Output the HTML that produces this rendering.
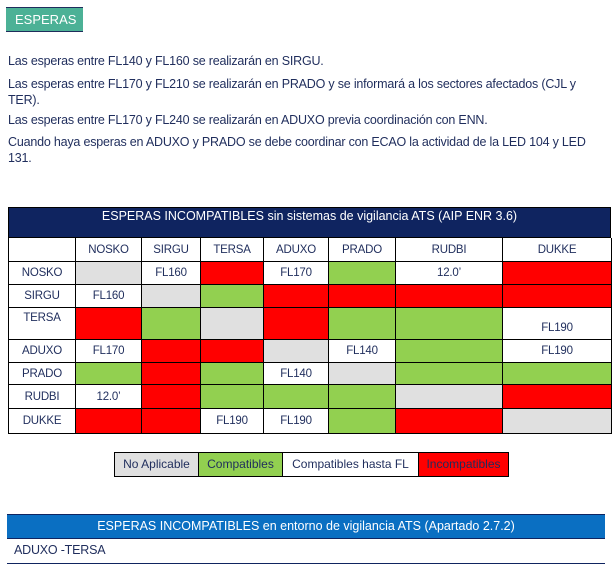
<!DOCTYPE html>
<html><head><meta charset="utf-8"><style>
body{margin:0;width:614px;height:571px;background:#fff;position:relative;font-family:"Liberation Sans",sans-serif;color:#1f2d5c;overflow:hidden}
.a{position:absolute}
.t{font-size:12.5px;letter-spacing:-0.2px;white-space:nowrap}
.c{position:absolute;box-sizing:border-box;border-right:1px solid #000;border-bottom:1px solid #000;display:flex;align-items:center;justify-content:center;font-size:11.5px;letter-spacing:-0.2px}
</style></head><body>
<div class="a" style="left:6px;top:7px;width:77px;height:25px;background:#4cb196;border-top:1px solid #1f2d5c;border-bottom:1px solid #1f2d5c;box-sizing:border-box;color:#fff;font-size:13px;line-height:23px;padding-left:9px">ESPERAS</div>
<div class="a t" style="left:8px;top:54px">Las esperas entre FL140 y FL160 se realizarán en SIRGU.</div>
<div class="a t" style="left:8px;top:76px;width:592px;white-space:normal;line-height:16px">Las esperas entre FL170 y FL210 se realizarán en PRADO y se informará a los sectores afectados (CJL y TER).</div>
<div class="a t" style="left:8px;top:113px">Las esperas entre FL170 y FL240 se realizarán en ADUXO previa coordinación con ENN.</div>
<div class="a t" style="left:8px;top:134px;width:600px;white-space:normal;line-height:16px">Cuando haya esperas en ADUXO y PRADO se debe coordinar con ECAO la actividad de la LED 104 y LED 131.</div>

<div class="a" style="left:8px;top:207px;width:603px;height:31px;background:#0f2460;color:#fff;font-size:12.5px;text-align:center;line-height:17px;box-sizing:border-box;border:1px solid #000">ESPERAS INCOMPATIBLES sin sistemas de vigilancia ATS (AIP ENR 3.6)</div>
<div id="grid" class="a" style="left:8px;top:238px;width:603px;height:196px;border-left:1px solid #000"></div>

<div class="a" style="left:114px;top:452px;width:395px;height:25px;border:1px solid #000;box-sizing:border-box;display:flex;font-size:12px">
<div style="width:83px;background:#e0e0e0;border-right:1px solid #000;text-align:center;line-height:23px">No Aplicable</div>
<div style="width:83px;background:#92d050;border-right:1px solid #000;text-align:center;line-height:23px">Compatibles</div>
<div style="width:135px;background:#fff;border-right:1px solid #000;text-align:center;line-height:23px">Compatibles hasta FL</div>
<div style="flex:1;background:#ff0000;text-align:center;line-height:23px">Incompatibles</div>
</div>

<div class="a" style="left:7px;top:514px;width:598px;height:25px;background:#0a6fc2;border-top:1px solid #0f2460;border-bottom:1px solid #0f2460;box-sizing:border-box;color:#fff;font-size:12.5px;text-align:center;line-height:23px">ESPERAS INCOMPATIBLES en entorno de vigilancia ATS (Apartado 2.7.2)</div>
<div class="a t" style="left:14px;top:543px">ADUXO -TERSA</div>
<div class="a" style="left:7px;top:563px;width:598px;height:1px;background:#0f2460"></div>

<script>
const names=["NOSKO","SIRGU","TERSA","ADUXO","PRADO","RUDBI","DUKKE"];
const colX=[0,67,133,192,255,320,387,494,603];
const rowY=[0,24,47,70,102,125,147,171,196];
// n=no aplicable, g=compatible, r=incompatible, other=text (white)
const cells=[
["n","FL160","r","FL170","g","12.0’","r"],
["FL160","n","g","r","r","r","r"],
["r","g","n","r","g","g","FL190"],
["FL170","r","r","n","FL140","g","FL190"],
["g","r","g","FL140","n","g","g"],
["12.0’","r","g","g","g","n","r"],
["r","r","FL190","FL190","g","r","n"]];
const col={n:"#e0e0e0",g:"#92d050",r:"#ff0000"};
const grid=document.getElementById('grid');
function mk(x0,x1,y0,y1,bg,txt,name){
  const d=document.createElement('div');d.className='c';
  d.style.left=colX[x0]+'px';d.style.width=(colX[x1]-colX[x0])+'px';
  d.style.top=rowY[y0]+'px';d.style.height=(rowY[y1]-rowY[y0])+'px';
  d.style.background=bg;d.textContent=txt;
  
  
  grid.appendChild(d);return d;}
mk(0,1,0,1,"#fff","","corner-cell");
names.forEach((n,i)=>{mk(i+1,i+2,0,1,"#fff",n,"col-header-"+n.toLowerCase());
  const r=mk(0,1,i+1,i+2,"#fff",n,"row-header-"+n.toLowerCase());
  if(n==="TERSA"){r.style.alignItems="flex-start";r.style.paddingTop="4px";}});
cells.forEach((row,i)=>row.forEach((v,j)=>{
  const isC=col[v]!==undefined;
  const d=mk(j+1,j+2,i+1,i+2,isC?col[v]:"#fff",isC?"":v,"cell-"+names[i].toLowerCase()+"-"+names[j].toLowerCase());
  if(i===2&&!isC){d.style.alignItems="flex-end";d.style.paddingBottom="5px";}
}));
</script>
</body></html>
